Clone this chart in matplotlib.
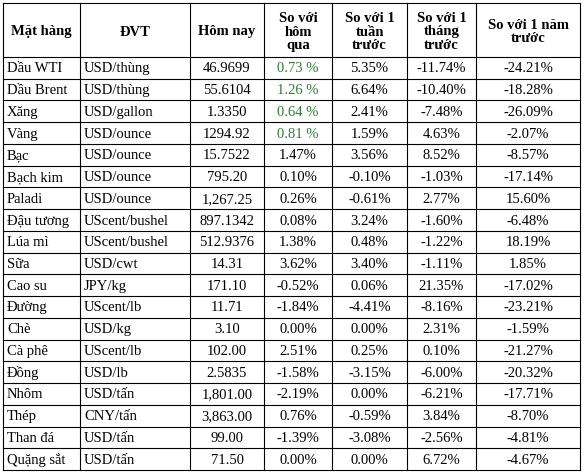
import matplotlib
matplotlib.use("Agg")
import matplotlib.pyplot as plt

headers = ["Mặt hàng", "ĐVT", "Hôm nay", "So với\nhôm\nqua", "So với 1\ntuần\ntrước", "So với 1\ntháng\ntrước", "So với 1 năm\ntrước"]
items = ["Dầu WTI", "Dầu Brent", "Xăng", "Vàng", "Bạc", "Bạch kim", "Paladi", "Đậu tương", "Lúa mì", "Sữa",
         "Cao su", "Đường", "Chè", "Cà phê", "Đồng", "Nhôm", "Thép", "Than đá", "Quặng sắt"]
units = ["USD/thùng", "USD/thùng", "USD/gallon", "USD/ounce", "USD/ounce", "USD/ounce", "USD/ounce", "UScent/bushel",
         "UScent/bushel", "USD/cwt", "JPY/kg", "UScent/lb", "USD/kg", "UScent/lb", "USD/lb", "USD/tấn", "CNY/tấn",
         "USD/tấn", "USD/tấn"]
today = ["46.9699", "55.6104", "1.3350", "1294.92", "15.7522", "795.20", "1,267.25", "897.1342", "512.9376", "14.31",
         "171.10", "11.71", "3.10", "102.00", "2.5835", "1,801.00", "3,863.00", "99.00", "71.50"]
day = ["0.73 %", "1.26 %", "0.64 %", "0.81 %", "1.47%", "0.10%", "0.26%", "0.08%", "1.38%", "3.62%",
       "-0.52%", "-1.84%", "0.00%", "2.51%", "-1.58%", "-2.19%", "0.76%", "-1.39%", "0.00%"]
week = ["5.35%", "6.64%", "2.41%", "1.59%", "3.56%", "-0.10%", "-0.61%", "3.24%", "0.48%", "3.40%",
        "0.06%", "-4.41%", "0.00%", "0.25%", "-3.15%", "0.00%", "-0.59%", "-3.08%", "0.00%"]
month = ["-11.74%", "-10.40%", "-7.48%", "4.63%", "8.52%", "-1.03%", "2.77%", "-1.60%", "-1.22%", "-1.11%",
         "21.35%", "-8.16%", "2.31%", "0.10%", "-6.00%", "-6.21%", "3.84%", "-2.56%", "6.72%"]
year = ["-24.21%", "-18.28%", "-26.09%", "-2.07%", "-8.57%", "-17.14%", "15.60%", "-6.48%", "18.19%", "1.85%",
        "-17.02%", "-23.21%", "-1.59%", "-21.27%", "-20.32%", "-17.71%", "-8.70%", "-4.81%", "-4.67%"]
green_rows = 4

fig = plt.figure(figsize=(5.86, 4.73), dpi=100)
ax = fig.add_axes([0, 0, 1, 1])
ax.set_xlim(0, 586); ax.set_ylim(473, 0); ax.axis("off")

xs = [3, 80, 190, 264, 332, 407, 476, 580]
top, hb = 3, 57
n = len(items)
rh = (470 - hb) / n
ys = [top, hb] + [hb + rh * (i + 1) for i in range(n)]
for x in xs:
    ax.plot([x, x], [top, ys[-1]], color="black", lw=0.8)
for y in ys:
    ax.plot([xs[0], xs[-1]], [y, y], color="black", lw=0.8)

font = dict(family="Liberation Serif")
for j, h in enumerate(headers):
    ax.text((xs[j] + xs[j + 1]) / 2, (top + hb) / 2 + 2, h, ha="center", va="center",
            fontsize=10.5, fontweight="bold", linespacing=1.05, **font)
cols = [items, units, today, day, week, month, year]
for i in range(n):
    yc = hb + rh * (i + 0.5) + 1
    for j, col in enumerate(cols):
        color = "#2e7d32" if (j == 3 and i < green_rows) else "black"
        if j < 2:
            ax.text(xs[j] + 4, yc, col[i], ha="left", va="center", fontsize=10.5, color=color, **font)
        else:
            ax.text((xs[j] + xs[j + 1]) / 2, yc, col[i], ha="center", va="center", fontsize=10.5, color=color, **font)

fig.savefig("out.png", dpi=100, facecolor="white")
